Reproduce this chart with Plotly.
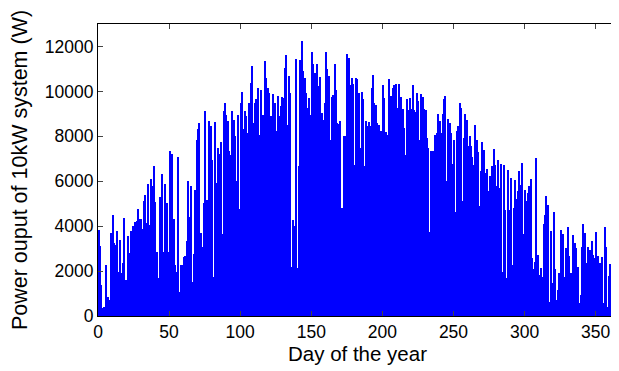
import plotly.graph_objects as go

# Daily peak power output (W), days 0..364
peaks_q1 = [3830, 3120, 1380, 340, 420, 2275, 565, 860, 700, 3690, 4500, 3240,
            3170, 3800, 1980, 3390, 1900, 2350, 4360, 1600, 1310, 3570,
            2800, 3800, 3990, 1980, 4200, 4240, 4760, 4330, 4310, 3870,
            5130, 5370, 4130, 5870, 4045, 6110, 5770, 6660, 5070, 2870,
            1680, 5280, 1040, 6330, 2870, 5890, 5030, 2870, 7360, 7080,
            7230, 4310, 2275, 1950, 7100, 1085, 2275, 2275, 2620]
peaks_q2 = [2650, 3360, 5990, 4390, 5800, 1530, 2750, 5620, 7820, 8340,
            8600, 3690, 3090, 5030, 9120, 5170, 415, 8670, 8480, 6930,
            1750, 8640, 5920, 7480, 7230, 7730, 3640, 9120, 9490, 8970,
            8670, 7360, 7180, 9120, 8740, 8000, 5990, 8970, 4760, 9490,
            9960, 8340, 9120, 8890, 8150, 9490, 10380, 11120, 8600, 9490,
            9640, 10150, 8070, 10040, 2050, 8970, 11350, 10600, 10150, 9930]
peaks_q3 = [8890, 7100, 9900, 9490, 8220, 9810, 8890, 9370, 9750, 9710,
            11050, 11640, 8520, 10680, 9930, 2200, 4280, 3990, 11450, 2130,
            6660, 11390, 12240, 10900, 10600, 9930, 9260, 9710, 8940, 11760,
            11200, 10830, 10300, 11200, 10230, 10650, 9040, 8710,
            9490, 11760, 10980, 10680, 7850, 9750, 9860, 11240, 10080, 8600,
            8570, 8670, 4800, 3460, 8000, 8030, 11670, 11490, 10300, 10600,
            10350, 6740]
peaks_q4 = [10600, 10530, 9930, 7480, 9960, 9640, 6690, 8670, 8450, 8620,
            8450, 10150, 10750, 9490, 9410, 8600, 8520, 7850,
            8220, 10300, 9710, 8180, 8070, 10530, 9640, 9790, 10150,
            10300, 10350, 9260, 10350, 7930, 9750, 9220, 8370, 7180,
            9640, 9190, 9710, 9220, 10300, 9190, 9070, 9930, 9560, 7850,
            9900, 9750, 9220, 9190, 7930, 7480, 3720, 7360, 7360,
            5470, 8070, 8150, 9010]
peaks_q5 = [8670, 8150, 8990, 9640, 9810, 5990, 8790, 8600, 8150, 6780,
            7820, 4650, 8250, 8450, 9490, 9250, 5100, 7930,
            8990, 8740, 7550, 8000, 7550, 7060, 6710, 8520, 7820, 7290,
            4880, 6440, 7750, 7380, 6360, 6560, 5550, 6220, 5550,
            6660, 7440, 6740, 5800, 6960, 5700, 6780, 1980, 6710, 4700,
            1680, 6510, 4730, 6140, 2275, 4800, 6070, 5200, 5550, 6440,
            5840, 6810, 3660]
peaks_q6 = [5620, 5100, 5470, 5770, 6100, 2570, 2080, 2420, 7030, 2720,
            1830, 2130, 1750, 4100, 4500, 5350, 4950, 640, 3800,
            1460, 4620, 2080, 700, 1160, 1930, 3840, 3270, 3640,
            1750, 3020, 3960, 2680, 1900, 1160, 3610, 3270, 3020, 2200,
            565, 940, 3060, 4090, 3690, 2350, 3090, 2760, 2940,
            3360, 2720, 2570, 3760, 2650, 1040, 2380, 2620, 565,
            3960, 3090, 390, 1780, 2320, 1780, 2230, 2650, 3060]

peaks = peaks_q1 + peaks_q2 + peaks_q3 + peaks_q4 + peaks_q5 + peaks_q6
days = [i + 0.5 for i in range(len(peaks))]

x_ticks = [0, 50, 100, 150, 200, 250, 300, 350]
y_ticks = [0, 2000, 4000, 6000, 8000, 10000, 12000]
y_tick_labels = ["0", "2000", "4000", "6000", "8000", "10000", "12000"]

font = "Liberation Sans, Arial, sans-serif"

fig = go.Figure(go.Bar(x=days, y=peaks, width=1.0,
                       marker=dict(color="#0000FF", line=dict(width=0))))

# page body has an 8px margin, so the figure is sized/offset to compensate
fig.update_layout(
    width=611, height=363,
    margin=dict(l=90, r=2, t=16, b=55, autoexpand=False),
    paper_bgcolor="white", plot_bgcolor="white",
    bargap=0, showlegend=False,
    font=dict(family=font, size=17.5, color="black"),
)
fig.update_xaxes(range=[0, 365], tickvals=x_ticks, ticks="inside", ticklen=5,
                 showline=True, linecolor="black", linewidth=1, mirror="ticks",
                 showgrid=False, zeroline=False, automargin=False,
                 title=dict(text="Day of the year", font=dict(size=20.5), standoff=3))
fig.update_yaxes(range=[0, 13000], tickvals=y_ticks, ticktext=y_tick_labels,
                 ticks="inside", ticklen=5,
                 showline=True, linecolor="black", linewidth=1, mirror="ticks",
                 showgrid=False, zeroline=False, automargin=False,
                 title=dict(text="Power ouput of 10kW system (W)", font=dict(size=21.5), standoff=14))

fig.write_html("out.html")
